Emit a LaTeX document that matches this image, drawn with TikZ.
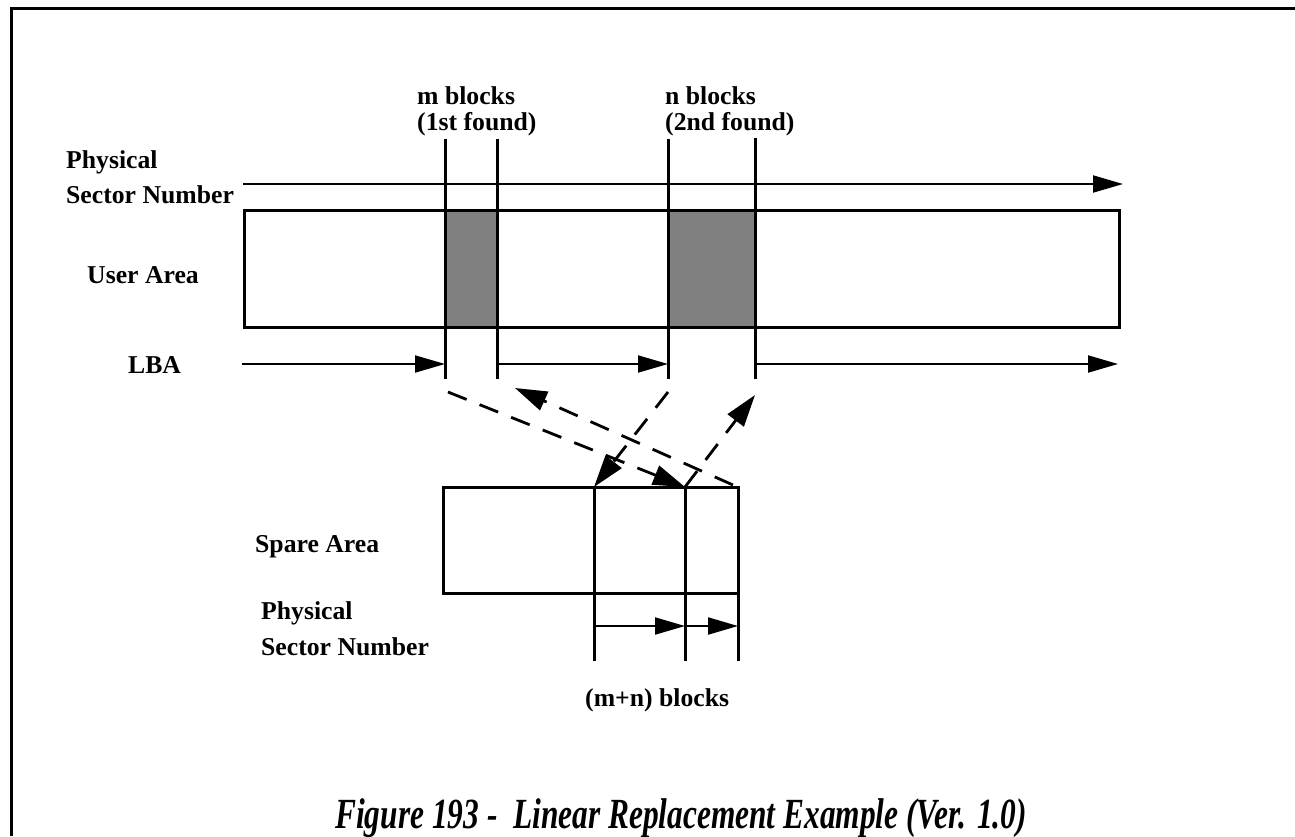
\documentclass[tikz,border=0pt]{standalone}
\usepackage{fontspec}
\usepackage{graphicx}
\setmainfont{Liberation Serif}
\usetikzlibrary{arrows.meta}

\tikzset{
  lbl/.style={anchor=base west,inner sep=0pt,font=\fontsize{25.7}{30}\selectfont\bfseries},
  figcap/.style={anchor=base,inner sep=0pt,font=\fontsize{43}{46}\selectfont\bfseries\itshape},
  frame/.style={line width=3pt},
  heavy/.style={line width=3pt},
  arr/.style={line width=2pt,-{Triangle[length=30pt,width=17pt]}},
  remap/.style={line width=2.8pt,dash pattern=on 20pt off 14pt,-{Triangle[length=32pt,width=20pt]}}
}

\begin{document}
\begin{tikzpicture}[x=1pt,y=-1pt]
\useasboundingbox (0,0) rectangle (1295,836);
\draw[frame] (11.5,836) -- (11.5,8.5) -- (1295,8.5);

% labels
\node[lbl] (psn1) at (66,168) {Physical};
\node[lbl] (psn2) at (66,203) {Sector Number};
\node[lbl] (user) at (87,283) {User Area};
\node[lbl] (lba) at (128,373) {LBA};
\node[lbl] (mblk1) at (417,104) {m blocks};
\node[lbl] (mblk2) at (417,130) {(1st found)};
\node[lbl] (nblk1) at (665,104) {n blocks};
\node[lbl] (nblk2) at (665,130) {(2nd found)};
\node[lbl] (spare) at (255,552) {Spare Area};
\node[lbl] (spsn1) at (261,619) {Physical};
\node[lbl] (spsn2) at (261,655) {Sector Number};
\node[lbl] (mn) at (585,706) {(m+n) blocks};
\node[figcap] (cap) at (681,828) {\scalebox{0.73}[1]{Figure 193 -\ \ Linear Replacement Example (Ver. 1.0)}};

% user area
\coordinate (ua0) at (244,210);
\coordinate (ua1) at (1119,327);
\coordinate (m0t) at (445,139);
\coordinate (m0b) at (445,379);
\coordinate (m1t) at (497,139);
\coordinate (m1b) at (497,379);
\coordinate (n0t) at (668,139);
\coordinate (n0b) at (668,379);
\coordinate (n1t) at (755,138);
\coordinate (n1b) at (755,379);
\fill[gray] (m0t|-ua0) rectangle (m1t|-ua1);
\fill[gray] (n0t|-ua0) rectangle (n1t|-ua1);
\draw[heavy] (ua0) rectangle (ua1);
\draw[heavy] (m0t) -- (m0b);
\draw[heavy] (m1t) -- (m1b);
\draw[heavy] (n0t) -- (n0b);
\draw[heavy] (n1t) -- (n1b);

% physical sector number and LBA
\coordinate (pa) at (243,184);
\coordinate (pb) at (1123,184);
\draw[arr] (pa) -- (pb);
\coordinate (la) at (242,364);
\coordinate (lb) at (1118,364);
\draw[arr] (la) -- (la-|m0t);
\draw[arr] (la-|m1t) -- (la-|n0t);
\draw[arr] (la-|n1t) -- (lb);

% spare area
\coordinate (sa0) at (443,487);
\coordinate (sa1) at (738,593);
\coordinate (s1) at (594,487);
\coordinate (s2) at (685,487);
\coordinate (sx) at (594,626);
\draw[heavy] (sa0) rectangle (sa1);
\draw[heavy] (s1) -- (s1|-0,661);
\draw[heavy] (s2) -- (s2|-0,661);
\draw[heavy] (sa1) -- (sa1|-0,661);
\draw[arr] (sx) -- (sx-|s2);
\draw[arr] (sx-|s2) -- (sx-|sa1);

% replacement
\coordinate (dm0) at (448,392);
\coordinate (dm1) at (515,388);
\coordinate (dn0) at (668,392);
\coordinate (dn1) at (755,395);
\coordinate (sr) at (733,485);
\draw[remap] (dm0) -- (s2);
\draw[remap] (sr) -- (dm1);
\draw[remap] (dn0) -- (s1);
\draw[remap] (s2) -- (dn1);
\end{tikzpicture}
\end{document}
